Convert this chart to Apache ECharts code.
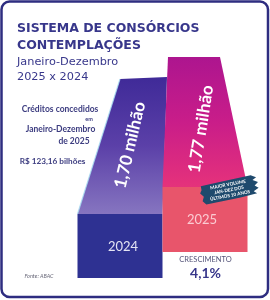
<!DOCTYPE html>
<html>
<head>
<meta charset="utf-8">
<script src="https://cdn.jsdelivr.net/npm/echarts@6/dist/echarts.min.js"></script>
<style>html,body{margin:0;padding:0;background:#fff}#c{width:270px;height:300px}</style>
</head>
<body>
<div id="c"></div>
<script>
// ---- data ----
const categories = ['2024', '2025'];
const values = [1.70, 1.77];                 // contemplações (milhões)
const valueLabels = ['1,70 milhão', '1,77 milhão'];
const titleLines = ['SISTEMA DE CONSÓRCIOS', 'CONTEMPLAÇÕES'];
const subtitleLines = ['Janeiro-Dezembro', '2025 x 2024'];
const creditLines = ['Créditos concedidos', 'em', 'Janeiro-Dezembro', 'de 2025'];
const creditValue = 'R$ 123,16 bilhões';
const growthLabel = 'CRESCIMENTO';
const growthValue = '4,1%';
const badgeLines = ['MAIOR VOLUME', 'JAN-DEZ DOS', 'ÚLTIMOS 10 ANOS'];
const sourceText = 'Fonte: ABAC';

// ---- styles (3D look per bar, pixel offsets relative to bar top) ----
const NAVY = '#38378b';
const GEOM = [
  { topL: [0, 1], topR: [47, -1], faceBottom: 136, frontBottom: 200,
    face: ['#3f2a98', '#5b40a8', '#8675c0'], front: '#2e3192',
    label: [10, 67, 76.8], year: [3, 169], yearColor: '#e4e4f4', glow: true },
  { topL: [-37, 0], topR: [15, 0], faceBottom: 130, frontBottom: 195,
    face: ['#ad158f', '#c91d89', '#e5327b'], front: '#e8556b',
    label: [-4, 72, 80.9], year: [-3, 162.5], yearColor: '#fbcbd2', glow: false }
];

const chart = echarts.init(document.getElementById('c'), null, { renderer: 'canvas' });

function renderItem(params, api) {
  const i = params.dataIndex;
  const g = GEOM[i];
  const p = api.coord([api.value(0), api.value(1)]);
  const half = api.size([1, 0])[0] / 2;
  const cx = p[0], ty = p[1];
  const children = [];
  children.push({
    type: 'polygon',
    shape: { points: [
      [cx + g.topL[0], ty + g.topL[1]],
      [cx + g.topR[0], ty + g.topR[1]],
      [cx + half, ty + g.faceBottom],
      [cx - half, ty + g.faceBottom]
    ] },
    style: { fill: new echarts.graphic.LinearGradient(0, 0, 0, 1, [
      { offset: 0, color: g.face[0] }, { offset: 0.5, color: g.face[1] }, { offset: 1, color: g.face[2] }
    ]) }
  });
  if (g.glow) {
    children.push({
      type: 'polyline',
      shape: { points: [[cx - half, ty + g.faceBottom], [cx + g.topL[0], ty + g.topL[1]]] },
      style: { stroke: '#a9dff2', lineWidth: 1.2, opacity: 0.8, fill: null }
    });
  }
  children.push({
    type: 'rect',
    shape: { x: cx - half, y: ty + g.faceBottom, width: half * 2, height: g.frontBottom - g.faceBottom },
    style: { fill: g.front }
  });
  children.push({
    type: 'text', x: cx + g.label[0], y: ty + g.label[1], rotation: g.label[2] * Math.PI / 180,
    style: { text: valueLabels[i], fill: '#ffffff', font: 'bold 17px Lato',
      align: 'center', verticalAlign: 'middle', textAlign: 'center', textVerticalAlign: 'middle' }
  });
  children.push({
    type: 'text', x: cx + g.year[0], y: ty + g.year[1],
    style: { text: categories[i], fill: g.yearColor, font: '13px Lato',
      align: 'center', verticalAlign: 'middle', textAlign: 'center', textVerticalAlign: 'middle' }
  });
  return { type: 'group', children: children };
}

function txt(text, x, y, font, fill, align) {
  return { type: 'text', x: x, y: y, z: 10,
    style: { text: text, font: font, fill: fill, align: align || 'left', verticalAlign: 'middle',
      textAlign: align || 'left', textVerticalAlign: 'middle' } };
}

const badgePts = [[-27,-9],[-10,-9.5],[10,-10],[24,-10.5],[29,-7.5],[25,-5.5],[30,-2.5],[26,0.5],[29.5,3.5],[24,6],[27,8.5],[10,9.5],[-25,10],[-28,6],[-26,2],[-29,-2],[-27,-5]];
const badgeText = (t, y) => ({ type: 'text', x: 0, y: y, zlevel: 1,
  style: { text: t, font: 'bold 4.6px Lato', fill: '#fff', align: 'center', verticalAlign: 'middle', textAlign: 'center', textVerticalAlign: 'middle' } });

const option = {
  backgroundColor: '#ffffff',
  animation: false,
  grid: { left: 77.5, width: 170, top: 18, height: 150 },
  xAxis: { type: 'category', data: categories, show: false },
  yAxis: { type: 'value', min: 1.4, max: 1.9, show: false },
  series: [{
    type: 'custom',
    renderItem: renderItem,
    data: categories.map((c, i) => [i, values[i]]),
    z: 2
  }],
  graphic: [
    { type: 'rect', z: 20, shape: { x: 1.5, y: 1.5, width: 266.5, height: 295.5, r: 8 },
      style: { fill: null, stroke: '#2e2d80', lineWidth: 2.5 } },
    txt(titleLines[0], 17, 29, 'bold 12.5px "DejaVu Sans"', NAVY),
    txt(titleLines[1], 17, 46, 'bold 12.5px "DejaVu Sans"', NAVY),
    txt(subtitleLines[0], 17, 62, '11.3px "DejaVu Sans"', NAVY),
    txt(subtitleLines[1], 17, 77.5, '11.3px "DejaVu Sans"', NAVY),
    txt(creditLines[0], 60, 109, 'bold 8.5px Lato', '#3d3d80', 'center'),
    txt(creditLines[1], 89, 119, 'bold 5.5px Lato', '#3d3d80', 'center'),
    txt(creditLines[2], 60.5, 129, 'bold 8.5px Lato', '#3d3d80', 'center'),
    txt(creditLines[3], 74, 141, 'bold 8.5px Lato', '#3d3d80', 'center'),
    txt(creditValue, 52.5, 161, 'bold 8.2px Lato', '#3d3d80', 'center'),
    txt(growthLabel, 205.5, 259.5, '7.5px Lato', '#55557a', 'center'),
    txt(growthValue, 205.5, 273, 'bold 14px Lato', NAVY, 'center'),
    txt(sourceText, 39, 276, 'italic 5.5px Lato', '#666677', 'center'),
    { type: 'group', x: 229, y: 190, rotation: 0.19, zlevel: 1, z: 15, children: [
      { type: 'polygon', zlevel: 1, shape: { points: badgePts }, style: { fill: '#1f4a6d' } },
      badgeText(badgeLines[0], -5.5),
      badgeText(badgeLines[1], 0),
      badgeText(badgeLines[2], 5.5)
    ] }
  ]
};
chart.setOption(option);
</script>
</body>
</html>
